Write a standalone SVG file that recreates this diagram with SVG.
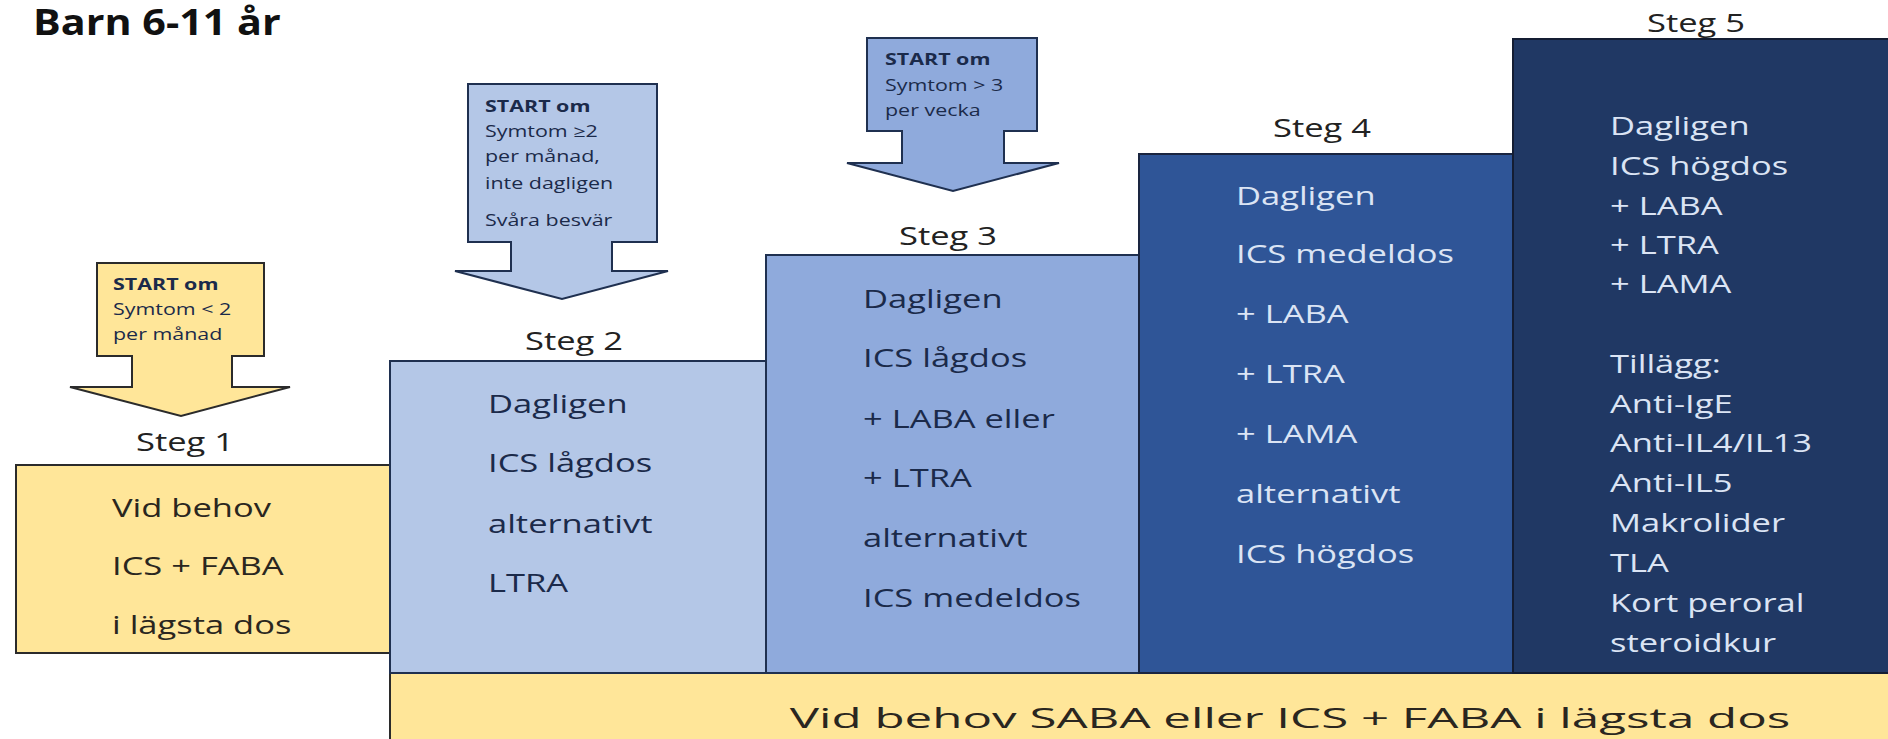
<svg xmlns="http://www.w3.org/2000/svg" width="1888" height="739" viewBox="0 0 1888 739">
<style>
  .t { font-family: "Open Sans", "Noto Sans", "Liberation Sans", sans-serif; font-size: 25px; }
  .dk { fill: #1b2a4a; }
  .yl { fill: #2a2620; }
  .lt { fill: #dbe4f4; }
  .lbl { font-family: "Open Sans", "Noto Sans", "Liberation Sans", sans-serif; font-size: 25px; fill: #222222; text-anchor: middle; }
  .st { font-family: "Open Sans", "Noto Sans", "Liberation Sans", sans-serif; font-size: 16px; fill: #1b2a4a; }
  .stb { font-weight: bold; }
  .bx { stroke-width: 2; }
  .yel { fill: #ffe699; stroke: #2b2b2b; }
  .b2 { fill: #b4c7e7; stroke: #1f3050; }
  .b3 { fill: #8faadc; stroke: #1f3050; }
  .b4 { fill: #2f5597; stroke: #1a2540; }
  .b5 { fill: #203864; stroke: #141d33; }
</style>
<rect width="1888" height="739" fill="#ffffff"/>

<g id="title">
  <text transform="matrix(1.18 0 0 1 33 35)" style="font-family:'Open Sans','Noto Sans',sans-serif;font-size:35px;font-weight:bold;fill:#111">Barn 6-11 år</text>
</g>

<g id="bottom-bar">
  <rect class="bx yel" x="390" y="673" width="1510" height="80"/>
  <text class="t yl" text-anchor="middle" style="font-size:28px" textLength="725" lengthAdjust="spacingAndGlyphs" transform="matrix(1.38 0 0 1 1290 728)">Vid behov SABA eller ICS + FABA i lägsta dos</text>
</g>

<g id="step1">
  <rect class="bx yel" x="16" y="465" width="374" height="188"/>
  <text class="lbl" transform="matrix(1.38 0 0 1 185 451)">Steg 1</text>
  <text class="t yl" transform="matrix(1.38 0 0 1 112 517)">Vid behov</text>
  <text class="t yl" transform="matrix(1.38 0 0 1 112 575)">ICS + FABA</text>
  <text class="t yl" transform="matrix(1.38 0 0 1 112 634)">i lägsta dos</text>
</g>

<g id="step2">
  <rect class="bx b2" x="390" y="361" width="376" height="312"/>
  <text class="lbl" transform="matrix(1.38 0 0 1 574 350)">Steg 2</text>
  <text class="t dk" transform="matrix(1.38 0 0 1 488 413)">Dagligen</text>
  <text class="t dk" transform="matrix(1.38 0 0 1 488 472)">ICS lågdos</text>
  <text class="t dk" transform="matrix(1.38 0 0 1 488 533)">alternativt</text>
  <text class="t dk" transform="matrix(1.38 0 0 1 488 592)">LTRA</text>
</g>

<g id="step3">
  <rect class="bx b3" x="766" y="255" width="373" height="418"/>
  <text class="lbl" transform="matrix(1.38 0 0 1 948 245)">Steg 3</text>
  <text class="t dk" transform="matrix(1.38 0 0 1 863 308)">Dagligen</text>
  <text class="t dk" transform="matrix(1.38 0 0 1 863 367)">ICS lågdos</text>
  <text class="t dk" transform="matrix(1.38 0 0 1 863 428)">+ LABA eller</text>
  <text class="t dk" transform="matrix(1.38 0 0 1 863 487)">+ LTRA</text>
  <text class="t dk" transform="matrix(1.38 0 0 1 863 547)">alternativt</text>
  <text class="t dk" transform="matrix(1.38 0 0 1 863 607)">ICS medeldos</text>
</g>

<g id="step4">
  <rect class="bx b4" x="1139" y="154" width="374" height="519"/>
  <text class="lbl" transform="matrix(1.38 0 0 1 1322 137)">Steg 4</text>
  <text class="t lt" transform="matrix(1.38 0 0 1 1236 205)">Dagligen</text>
  <text class="t lt" transform="matrix(1.38 0 0 1 1236 263)">ICS medeldos</text>
  <text class="t lt" transform="matrix(1.38 0 0 1 1236 323)">+ LABA</text>
  <text class="t lt" transform="matrix(1.38 0 0 1 1236 383)">+ LTRA</text>
  <text class="t lt" transform="matrix(1.38 0 0 1 1236 443)">+ LAMA</text>
  <text class="t lt" transform="matrix(1.38 0 0 1 1236 503)">alternativt</text>
  <text class="t lt" transform="matrix(1.38 0 0 1 1236 563)">ICS högdos</text>
</g>

<g id="step5">
  <rect class="bx b5" x="1513" y="39" width="390" height="634"/>
  <text class="lbl" transform="matrix(1.38 0 0 1 1696 32)">Steg 5</text>
  <text class="t lt" transform="matrix(1.38 0 0 1 1610 135)">Dagligen</text>
  <text class="t lt" transform="matrix(1.38 0 0 1 1610 175)">ICS högdos</text>
  <text class="t lt" transform="matrix(1.38 0 0 1 1610 215)">+ LABA</text>
  <text class="t lt" transform="matrix(1.38 0 0 1 1610 254)">+ LTRA</text>
  <text class="t lt" transform="matrix(1.38 0 0 1 1610 293)">+ LAMA</text>
  <text class="t lt" transform="matrix(1.38 0 0 1 1610 373)">Tillägg:</text>
  <text class="t lt" transform="matrix(1.38 0 0 1 1610 413)">Anti-IgE</text>
  <text class="t lt" transform="matrix(1.38 0 0 1 1610 452)">Anti-IL4/IL13</text>
  <text class="t lt" transform="matrix(1.38 0 0 1 1610 492)">Anti-IL5</text>
  <text class="t lt" transform="matrix(1.38 0 0 1 1610 532)">Makrolider</text>
  <text class="t lt" transform="matrix(1.38 0 0 1 1610 572)">TLA</text>
  <text class="t lt" transform="matrix(1.38 0 0 1 1610 612)">Kort peroral</text>
  <text class="t lt" transform="matrix(1.38 0 0 1 1610 652)">steroidkur</text>
</g>

<g id="start1">
  <path class="bx yel" d="M97,263 H264 V356 H232 V387 H290 L181,416 L70,387 H132 V356 H97 Z"/>
  <text class="st stb" transform="matrix(1.34 0 0 1 113 290)">START om</text>
  <text class="st" transform="matrix(1.34 0 0 1 113 315)">Symtom &lt; 2</text>
  <text class="st" transform="matrix(1.34 0 0 1 113 340)">per månad</text>
</g>

<g id="start2">
  <path class="bx b2" d="M468,84 H657 V242 H612 V271 H668 L562,299 L455,271 H511 V242 H468 Z"/>
  <text class="st stb" transform="matrix(1.34 0 0 1 485 112)">START om</text>
  <text class="st" transform="matrix(1.34 0 0 1 485 137)">Symtom ≥2</text>
  <text class="st" transform="matrix(1.34 0 0 1 485 162)">per månad,</text>
  <text class="st" transform="matrix(1.34 0 0 1 485 189)">inte dagligen</text>
  <text class="st" transform="matrix(1.34 0 0 1 485 226)">Svåra besvär</text>
</g>

<g id="start3">
  <path class="bx b3" d="M867,38 H1037 V131 H1004 V163 H1059 L953,191 L847,163 H902 V131 H867 Z"/>
  <text class="st stb" transform="matrix(1.34 0 0 1 885 65)">START om</text>
  <text class="st" transform="matrix(1.34 0 0 1 885 91)">Symtom &gt; 3</text>
  <text class="st" transform="matrix(1.34 0 0 1 885 116)">per vecka</text>
</g>

<g id="connectors"></g>
</svg>
